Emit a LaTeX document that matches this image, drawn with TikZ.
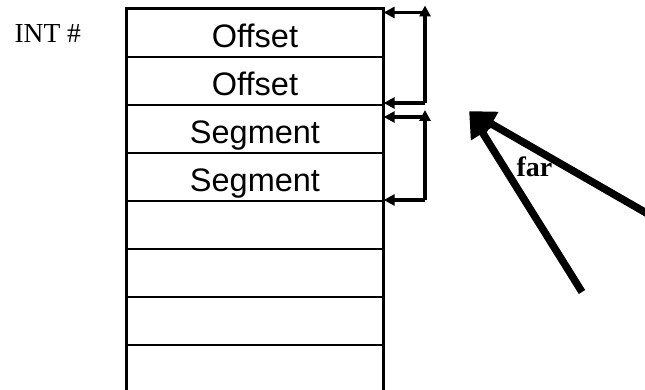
\documentclass[tikz,border=0pt]{standalone}
\usepackage{fontspec}
\setmainfont{Liberation Serif}
\setsansfont{Liberation Sans}
\usetikzlibrary{arrows.meta}

\begin{document}
\begin{tikzpicture}[x=1pt,y=-1pt]
\tikzset{cell/.style={draw,fill=white,line width=1.3pt,minimum width=256pt,minimum height=48pt,inner sep=0pt,font=\sffamily\fontsize{32.5}{32.5}\selectfont,text height=29pt,text depth=0pt}}
\tikzset{frame/.style={line width=2.5pt}}
\tikzset{link/.style={line width=3.4pt,-{Triangle[length=11pt,width=11pt]}}}
\tikzset{far arrow/.style={line width=7.5pt,-{Triangle[length=26pt,width=26pt]}}}

\useasboundingbox (0,0) rectangle (645,390);

\node[font=\fontsize{27.5}{27.5}\selectfont,anchor=base west] (int) at (11,43) {INT \#};

% the table
\foreach \txt [count=\i] in {Offset,Offset,Segment,Segment,{},{},{},{}}
  \node[cell] (c\i) at (255,{33+48*(\i-1)}) {\txt};
\draw[frame] (c8.south west) -- (c1.north west) -- (c1.north east) -- (c8.south east);

% offset bracket
\coordinate (b1t) at (425,12.5);
\coordinate (b1b) at (425,103);
\draw[link] (b1b) -- (b1b -| c2.east);
\draw[link] (b1b) -- ([yshift=7pt]b1t);
\draw[link] (b1t) -- (b1t -| c1.east);

% segment bracket
\coordinate (b2t) at (425,117);
\coordinate (b2b) at (425,200);
\draw[link] (b2b) -- (b2b -| c4.east);
\draw[link] (b2b) -- ([yshift=7pt]b2t);
\draw[link] (b2t) -- (b2t -| c3.east);

% far pointer
\coordinate (tip) at (469,111);
\coordinate (s1) at (582,292);
\coordinate (s2) at (662,222);
\draw[far arrow] (s1) -- (tip);
\draw[far arrow] (s2) -- (tip);
\node[font=\bfseries\fontsize{28}{28}\selectfont,anchor=base west] (far) at (513,177) {far};

\end{tikzpicture}
\end{document}
